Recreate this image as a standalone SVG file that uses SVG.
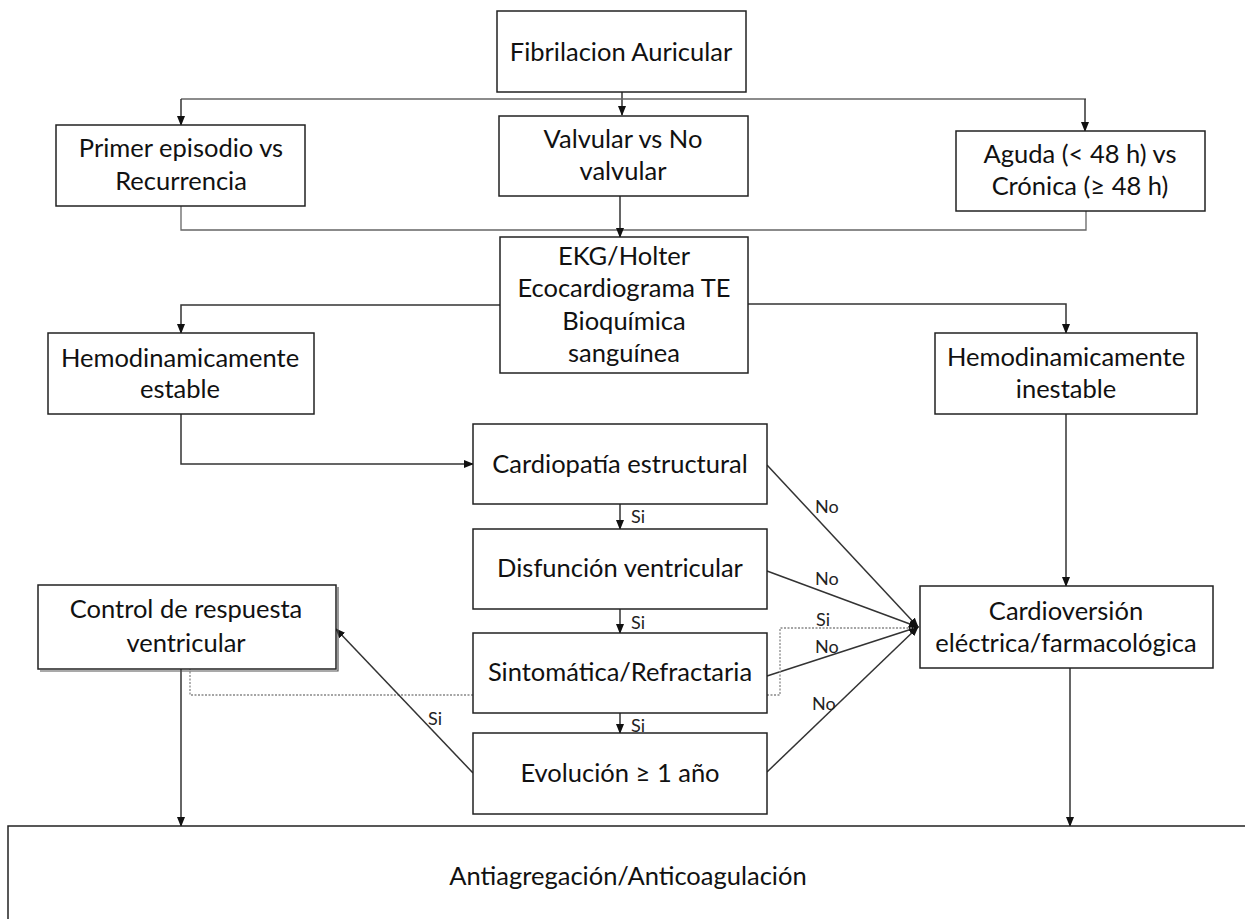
<svg xmlns="http://www.w3.org/2000/svg" width="1245" height="919" viewBox="0 0 1245 919">
<defs>
<marker id="ah" markerWidth="10" markerHeight="8" refX="9" refY="4" orient="auto" markerUnits="userSpaceOnUse">
<path d="M0,0 L10,4 L0,8 z" fill="#111"/>
</marker>
<style>
.box{fill:#fff;stroke:#222;stroke-width:1.5}
.sh{fill:none;stroke:#555;stroke-width:1.2}
.t{font-family:Lato,"Open Sans","Liberation Sans",sans-serif;font-size:25.5px;fill:#111;text-anchor:middle}
.l{font-family:Lato,"Open Sans","Liberation Sans",sans-serif;font-size:18px;fill:#222}
.c{fill:none;stroke:#333;stroke-width:1.5}
.g{fill:none;stroke:#666;stroke-width:1.3}
.d{fill:none;stroke:#888;stroke-width:1.3;stroke-dasharray:2 1.5}
</style>
</defs>
<rect width="1245" height="919" fill="#fff"/>

<g id="connectors">
<path class="c" d="M622,92 V115" marker-end="url(#ah)"/>
<path class="g" d="M181,99 H1086"/>
<path class="c" d="M181,99 V125" marker-end="url(#ah)"/>
<path class="c" d="M1085,99 V131" marker-end="url(#ah)"/>
<path class="g" d="M181,206 V230 H1086 V211"/>
<path class="c" d="M620,196 V237" marker-end="url(#ah)"/>
<path class="c" d="M500,305 H181 V333" marker-end="url(#ah)"/>
<path class="c" d="M748,304 H1066 V333" marker-end="url(#ah)"/>
<path class="c" d="M181,414 V464 H473" marker-end="url(#ah)"/>
<path class="c" d="M1066,414 V586" marker-end="url(#ah)"/>
<path class="c" d="M620,504 V529" marker-end="url(#ah)"/>
<path class="c" d="M620,609 V633" marker-end="url(#ah)"/>
<path class="c" d="M620,713 V733" marker-end="url(#ah)"/>
<path class="c" d="M767,465 L918,627" marker-end="url(#ah)"/>
<path class="c" d="M767,571 L918,627" marker-end="url(#ah)"/>
<path class="c" d="M767,676 L918,627" marker-end="url(#ah)"/>
<path class="c" d="M767,772 L918,627" marker-end="url(#ah)"/>
<path class="d" d="M767,695 H780 V628 H914"/>
<path class="d" d="M473,695 H190 V669"/>
<path class="c" d="M473,773 L336,629" marker-end="url(#ah)"/>
<path class="c" d="M181,669 V826" marker-end="url(#ah)"/>
<path class="c" d="M1070,668 V826" marker-end="url(#ah)"/>
<text class="l" x="631" y="523">Si</text>
<text class="l" x="631" y="629">Si</text>
<text class="l" x="631" y="732">Si</text>
<text class="l" x="815" y="513">No</text>
<text class="l" x="815" y="585">No</text>
<text class="l" x="816" y="626">Si</text>
<text class="l" x="815" y="653">No</text>
<text class="l" x="812" y="710">No</text>
<text class="l" x="428" y="725">Si</text>
</g>

<g id="n-fib"><rect class="box" x="497" y="11" width="249" height="81"/><text class="t" x="621" y="61">Fibrilacion Auricular</text></g>
<g id="n-primer"><rect class="box" x="56" y="125" width="249" height="81"/><text class="t" x="181" y="157">Primer episodio vs</text><text class="t" x="181" y="190">Recurrencia</text></g>
<g id="n-valvular"><rect class="box" x="499" y="116" width="249" height="80"/><text class="t" x="623" y="148">Valvular vs No</text><text class="t" x="623" y="180">valvular</text></g>
<g id="n-aguda"><rect class="box" x="956" y="131" width="249" height="80"/><text class="t" x="1080" y="163">Aguda (&lt; 48 h) vs</text><text class="t" x="1080" y="195">Crónica (≥ 48 h)</text></g>
<g id="n-ekg"><rect class="box" x="500" y="237" width="248" height="136"/><text class="t" x="624" y="265">EKG/Holter</text><text class="t" x="624" y="297">Ecocardiograma TE</text><text class="t" x="624" y="330">Bioquímica</text><text class="t" x="624" y="362">sanguínea</text></g>
<g id="n-estable"><rect class="box" x="48" y="333" width="266" height="81"/><text class="t" x="180" y="367">Hemodinamicamente</text><text class="t" x="180" y="398">estable</text></g>
<g id="n-inestable"><rect class="box" x="935" y="333" width="262" height="81"/><text class="t" x="1066" y="366">Hemodinamicamente</text><text class="t" x="1066" y="398">inestable</text></g>
<g id="n-cardiopatia"><rect class="box" x="473" y="424" width="294" height="80"/><text class="t" x="620" y="473">Cardiopatía estructural</text></g>
<g id="n-disfuncion"><rect class="box" x="473" y="529" width="294" height="80"/><text class="t" x="620" y="577">Disfunción ventricular</text></g>
<g id="n-sintomatica"><rect class="box" x="473" y="633" width="294" height="80"/><text class="t" x="620" y="681">Sintomática/Refractaria</text></g>
<g id="n-evolucion"><rect class="box" x="473" y="733" width="294" height="81"/><text class="t" x="620" y="782">Evolución ≥ 1 año</text></g>
<g id="n-control"><rect class="box" x="38" y="585" width="298" height="84"/><path class="sh" d="M338,587 V671 H40"/><text class="t" x="186" y="618">Control de respuesta</text><text class="t" x="186" y="652">ventricular</text></g>
<g id="n-cardioversion"><rect class="box" x="920" y="586" width="293" height="82"/><text class="t" x="1066" y="620">Cardioversión</text><text class="t" x="1066" y="652">eléctrica/farmacológica</text></g>
<g id="n-anti"><rect class="box" x="8" y="826" width="1300" height="200"/><text class="t" x="628" y="885">Antiagregación/Anticoagulación</text></g>
</svg>
